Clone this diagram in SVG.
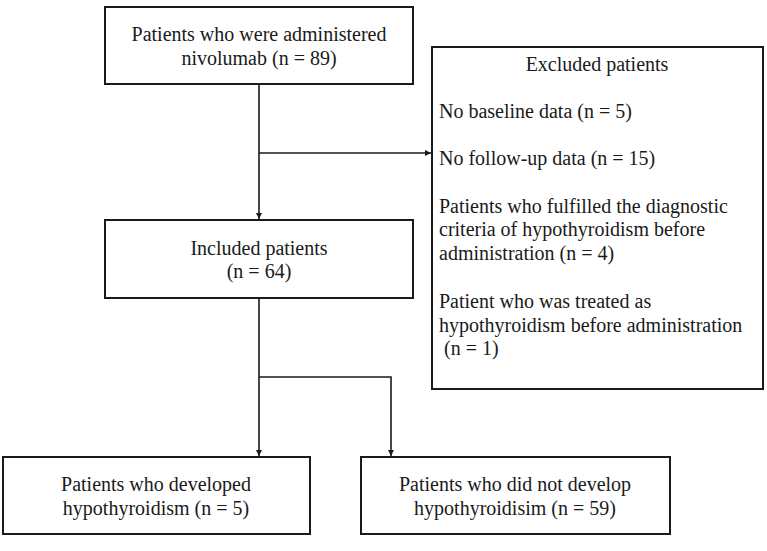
<svg xmlns="http://www.w3.org/2000/svg" width="767" height="551" viewBox="0 0 767 551">
<style>
.box{fill:#fff;stroke:#1a1a1a;stroke-width:2}
.ln{fill:none;stroke:#1a1a1a;stroke-width:1.6}
.t{font-family:'Liberation Serif','Times New Roman',Tinos,'DejaVu Serif',serif;font-size:20px;fill:#1a1a1a}
.c{text-anchor:middle}
</style>
<defs>
<marker id="ah" viewBox="0 0 10 10" refX="10" refY="5" markerWidth="6" markerHeight="6" markerUnits="userSpaceOnUse" orient="auto">
<path d="M0,0 L10,5 L0,10 z" fill="#1a1a1a"/>
</marker>
</defs>
<rect width="767" height="551" fill="#fff"/>
<g id="connectors">
<line class="ln" x1="259" y1="84" x2="259" y2="219" marker-end="url(#ah)"/>
<line class="ln" x1="259" y1="153" x2="431" y2="153" marker-end="url(#ah)"/>
<polyline class="ln" points="259,298 259,456" marker-end="url(#ah)"/>
<polyline class="ln" points="259,377 391,377 391,456" marker-end="url(#ah)"/>
</g>
<g id="administered" class="t" font-family="Liberation Serif, serif">
<rect class="box" x="105" y="7" width="308" height="77"/>
<text class="c" x="259" y="41">Patients who were administered</text>
<text class="c" x="259" y="65">nivolumab (n = 89)</text>
</g>
<g id="excluded" class="t" font-family="Liberation Serif, serif">
<rect class="box" x="432" y="47" width="331" height="342"/>
<text class="c" x="597" y="71">Excluded patients</text>
<text x="439" y="118">No baseline data (n = 5)</text>
<text x="439" y="165">No follow-up data (n = 15)</text>
<text x="439" y="213">Patients who fulfilled the diagnostic</text>
<text x="439" y="236">criteria of hypothyroidism before</text>
<text x="439" y="260">administration (n = 4)</text>
<text x="439" y="308">Patient who was treated as</text>
<text x="439" y="332">hypothyroidism before administration</text>
<text x="444" y="355">(n = 1)</text>
</g>
<g id="included" class="t" font-family="Liberation Serif, serif">
<rect class="box" x="105" y="220" width="308" height="78"/>
<text class="c" x="259" y="255">Included patients</text>
<text class="c" x="259" y="278">(n = 64)</text>
</g>
<g id="developed" class="t" font-family="Liberation Serif, serif">
<rect class="box" x="3" y="457" width="307" height="77"/>
<text class="c" x="156" y="491">Patients who developed</text>
<text class="c" x="156" y="515">hypothyroidism (n = 5)</text>
</g>
<g id="notdeveloped" class="t" font-family="Liberation Serif, serif">
<rect class="box" x="361" y="457" width="309" height="77"/>
<text class="c" x="515" y="491">Patients who did not develop</text>
<text class="c" x="515" y="515">hypothyroidisim (n = 59)</text>
</g>
</svg>
